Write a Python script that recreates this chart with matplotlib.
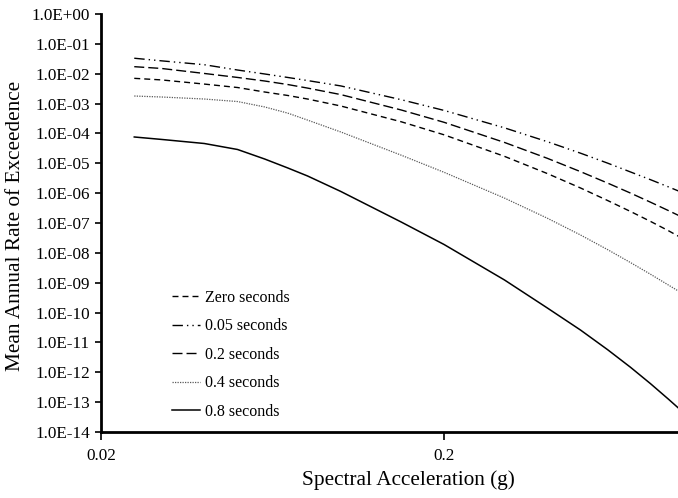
import matplotlib
matplotlib.use('Agg')
import matplotlib.pyplot as plt
import numpy as np

plt.rcParams['font.family'] = ['Liberation Serif', 'DejaVu Serif']

# Spectral acceleration (g) and mean annual rate of exceedence per period
sa = [0.025, 0.03, 0.04, 0.05, 0.06, 0.07, 0.08, 0.1, 0.15, 0.2,
      0.3, 0.4, 0.5, 0.6, 0.7, 0.8, 0.9, 1.0]

rate_zero = [7.0e-3, 6.2e-3, 4.5e-3, 3.45e-3, 2.44e-3, 1.87e-3, 1.42e-3, 8.3e-4,
             2.46e-4, 9.0e-5, 1.71e-5, 4.54e-6, 1.49e-6, 5.65e-7, 2.42e-7, 1.13e-7,
             5.6e-8, 2.87e-8]
rate_005 = [3.3e-2, 2.7e-2, 2.0e-2, 1.33e-2, 9.8e-3, 7.5e-3, 5.9e-3, 3.9e-3,
            1.35e-3, 5.9e-4, 1.54e-4, 5.3e-5, 2.18e-5, 1.01e-5, 5.1e-6, 2.82e-6,
            1.64e-6, 1.0e-6]
rate_02 = [1.72e-2, 1.5e-2, 1.02e-2, 7.5e-3, 5.7e-3, 4.35e-3, 3.3e-3, 2.0e-3,
           6.1e-4, 2.36e-4, 5.0e-5, 1.47e-5, 5.25e-6, 2.17e-6, 1.0e-6, 4.97e-7,
           2.64e-7, 1.48e-7]
rate_04 = [1.79e-3, 1.66e-3, 1.42e-3, 1.17e-3, 7.7e-4, 4.8e-4, 2.8e-4, 1.12e-4,
           1.87e-5, 5.0e-6, 6.85e-7, 1.45e-7, 3.97e-8, 1.28e-8, 4.7e-9, 1.92e-9,
           8.5e-10, 4.1e-10]
rate_08 = [7.6e-5, 6.3e-5, 4.6e-5, 2.9e-5, 1.39e-5, 7.0e-6, 3.76e-6, 1.14e-6,
           1.08e-7, 1.91e-8, 1.24e-9, 1.43e-10, 2.6e-11, 5.7e-12, 1.46e-12,
           4.15e-13, 1.29e-13, 4.4e-14]

y_ticks = [10.0 ** -k for k in range(0, 15)]
x_ticks = [0.02, 0.2]

fig = plt.figure(figsize=(6.78, 4.98), dpi=100)
ax = fig.add_axes([0.149, 0.1325, 0.851, 0.8394])

ax.plot(sa, rate_zero, color='black', lw=1.0, dashes=(4.3, 2.9), label='Zero seconds')
ax.plot(sa, rate_005, color='black', lw=1.0, dashes=(7.5, 2.9, 1, 2.9, 1, 2.9),
        label='0.05 seconds')
ax.plot(sa, rate_02, color='black', lw=1.0, dashes=(7.2, 2.9), label='0.2 seconds')
ax.plot(sa, rate_04, color='0.35', lw=0.9, dashes=(1, 1), label='0.4 seconds')
ax.plot(sa, rate_08, color='black', lw=1.1, label='0.8 seconds')

ax.set_xscale('log')
ax.set_yscale('log')
ax.set_xlim(0.02, 0.962)
ax.set_ylim(1e-14, 1.0)

ax.set_xticks(x_ticks)
ax.set_xticklabels(['0.02', '0.2'])
ax.set_yticks(y_ticks)
ax.set_yticklabels([f'{v:.1E}' for v in y_ticks])
ax.minorticks_off()
ax.tick_params(axis='both', labelsize=12.3, width=1.2, color='black')
ax.tick_params(axis='y', length=4, pad=4)
ax.tick_params(axis='x', length=6, pad=5.5)

for side in ['top', 'right']:
    ax.spines[side].set_visible(False)
for side in ['left', 'bottom']:
    ax.spines[side].set_linewidth(2.0)

ax.set_xlabel('Spectral Acceleration (g)', fontsize=15.3)
ax.set_ylabel('Mean Annual Rate of Exceedence', fontsize=15.3)
ax.xaxis.set_label_coords(0.533, -0.091)
ax.yaxis.set_label_coords(-0.132, 0.493)

ax.legend(loc='upper left', bbox_to_anchor=(0.123, 0.340), frameon=False,
          fontsize=11.5, handlelength=1.75, handletextpad=0.3,
          labelspacing=0.78, borderpad=0, borderaxespad=0)

fig.savefig('out.png', dpi=100)
